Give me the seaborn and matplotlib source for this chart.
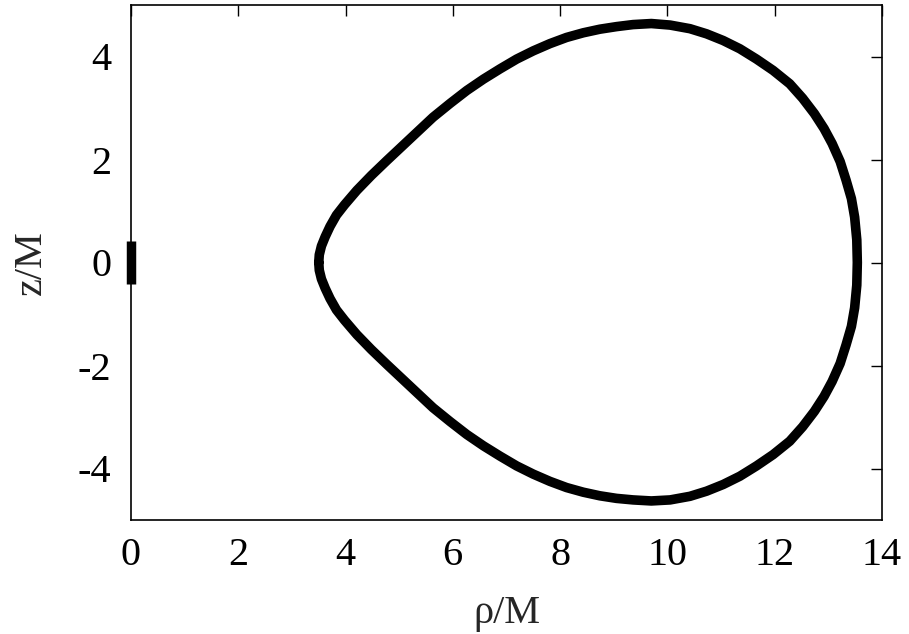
import matplotlib
matplotlib.use("Agg")
import matplotlib.pyplot as plt
import seaborn as sns
import pandas as pd

# Orbit (upper half, from the left tip over the top to the right edge)
rho_upper = [3.50, 3.51, 3.55, 3.62, 3.71, 3.83, 3.98, 4.21, 4.48, 4.77, 5.20,
             5.63, 5.95, 6.26, 6.57, 6.88, 7.19, 7.50, 7.81, 8.12, 8.43, 8.74,
             9.05, 9.36, 9.70, 10.05, 10.42, 10.73, 11.04, 11.35, 11.66, 11.97,
             12.28, 12.52, 12.74, 12.92, 13.07, 13.22, 13.33, 13.43, 13.49,
             13.53, 13.54]
z_upper = [0.00, 0.15, 0.32, 0.50, 0.70, 0.92, 1.12, 1.40, 1.69, 1.98, 2.40,
           2.82, 3.09, 3.34, 3.56, 3.76, 3.95, 4.11, 4.25, 4.37, 4.46, 4.53,
           4.58, 4.62, 4.64, 4.61, 4.54, 4.44, 4.31, 4.15, 3.95, 3.73,
           3.47, 3.19, 2.89, 2.60, 2.31, 1.96, 1.60, 1.24, 0.88,
           0.44, 0.00]
# Lower half, from the right edge under the bottom back to the left tip
rho_lower = [13.53, 13.49, 13.43, 13.33, 13.22, 13.07, 12.92, 12.74, 12.52,
             12.28, 11.97, 11.66, 11.35, 11.04, 10.73, 10.42, 10.05, 9.70,
             9.36, 9.05, 8.74, 8.43, 8.12, 7.81, 7.50, 7.19, 6.88, 6.57, 6.26,
             5.95, 5.63, 5.20, 4.77, 4.48, 4.21, 3.98, 3.83, 3.71, 3.62, 3.55,
             3.51, 3.50]
z_lower = [-0.44, -0.88, -1.24, -1.60, -1.96, -2.31, -2.60, -2.89, -3.19,
           -3.47, -3.73, -3.95, -4.15, -4.31, -4.44, -4.54, -4.61, -4.63,
           -4.61, -4.58, -4.53, -4.46, -4.37, -4.25, -4.11, -3.95, -3.76,
           -3.56, -3.34, -3.09, -2.82, -2.40, -1.98, -1.69, -1.40, -1.12,
           -0.92, -0.70, -0.50, -0.32, -0.15, 0.00]

# Central object (bar on the axis)
rho_bar = [0.0, 0.0]
z_bar = [-0.42, 0.42]

x_ticks = [0, 2, 4, 6, 8, 10, 12, 14]
y_ticks = [-4, -2, 0, 2, 4]

sns.set_style("white")
plt.rcParams['font.family'] = ['Liberation Serif', 'DejaVu Serif']

fig = plt.figure(figsize=(9.09, 6.34), dpi=100)
ax = fig.add_axes([131/909, 1 - 520/634, (882 - 131)/909, (520 - 5)/634])

orbit = pd.DataFrame({"rho": rho_upper + rho_lower, "z": z_upper + z_lower})
sns.lineplot(data=orbit, x="rho", y="z", sort=False, estimator=None, ax=ax,
             color="black", linewidth=6.9, solid_joinstyle="round",
             solid_capstyle="round")

bar = pd.DataFrame({"rho": rho_bar, "z": z_bar})
sns.lineplot(data=bar, x="rho", y="z", sort=False, estimator=None, ax=ax,
             color="black", linewidth=6.8, solid_capstyle="butt")
for line in ax.get_lines():
    line.set_clip_on(False)

ax.set_xlim(0, 14)
ax.set_ylim(-5, 5)
ax.set_xticks(x_ticks)
ax.set_yticks(y_ticks)
ax.set_xticklabels([str(v) for v in x_ticks])
ax.set_yticklabels([str(v) for v in y_ticks])

ax.tick_params(direction="in", length=8, width=1, top=True, right=True,
               labelsize=29, color="black", labelcolor="black")
ax.tick_params(axis="x", pad=12)
ax.tick_params(axis="y", pad=14)
for s in ax.spines.values():
    s.set_visible(True)
    s.set_linewidth(1.2)
    s.set_color("black")

ax.set_xlabel("ρ/M", fontsize=29, labelpad=15)
ax.set_ylabel("z/M", fontsize=29, labelpad=20)

fig.savefig("out.png", dpi=100)
